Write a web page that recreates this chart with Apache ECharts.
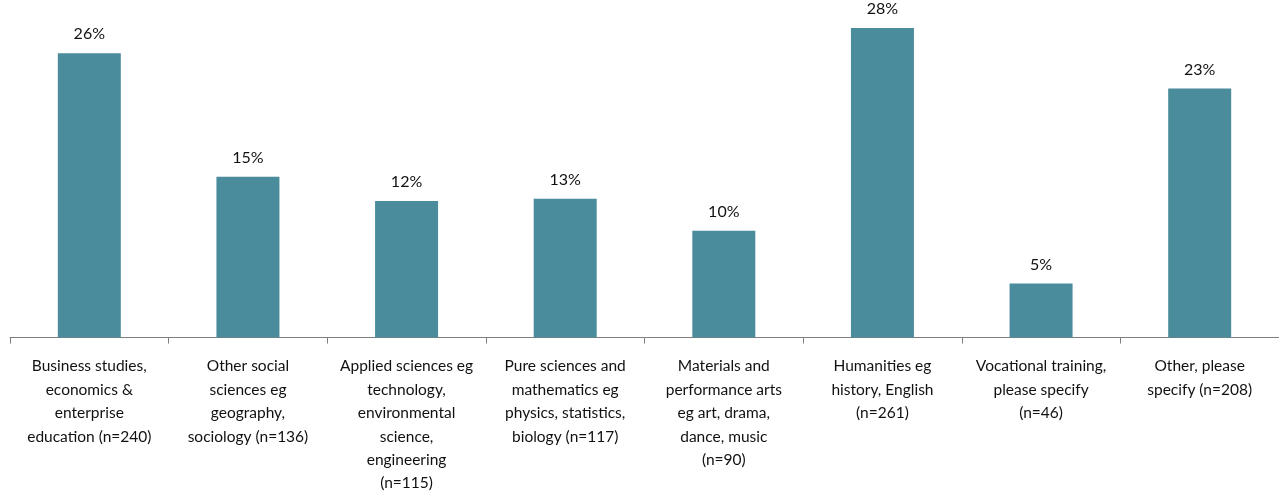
<!DOCTYPE html>
<html>
<head>
<meta charset="utf-8">
<script src="https://cdn.jsdelivr.net/npm/echarts@6/dist/echarts.min.js"></script>
<style>
html,body{margin:0;padding:0;background:#fff;}
#chart{width:1279px;height:495px;}
</style>
</head>
<body>
<div id="chart"></div>
<script>
const categories = [
  "Business studies,\neconomics &\nenterprise\neducation (n=240)",
  "Other social\nsciences eg\ngeography,\nsociology (n=136)",
  "Applied sciences eg\ntechnology,\nenvironmental\nscience,\nengineering\n(n=115)",
  "Pure sciences and\nmathematics eg\nphysics, statistics,\nbiology (n=117)",
  "Materials and\nperformance arts\neg art, drama,\ndance, music\n(n=90)",
  "Humanities eg\nhistory, English\n(n=261)",
  "Vocational training,\nplease specify\n(n=46)",
  "Other, please\nspecify (n=208)"
];
const values = [25.8, 14.6, 12.4, 12.6, 9.7, 28.1, 4.9, 22.6];

const chart = echarts.init(document.getElementById('chart'));
chart.setOption({
  animation: false,
  backgroundColor: '#ffffff',
  grid: { left: 10, right: 0, top: 7, bottom: 156, containLabel: false },
  xAxis: {
    type: 'category',
    data: categories,
    axisLine: { lineStyle: { color: '#7f7f7f', width: 1 } },
    axisTick: { show: true, length: 6, lineStyle: { color: '#7f7f7f' } },
    axisLabel: {
      interval: 0,
      color: '#111111',
      fontFamily: 'Lato',
      fontSize: 15.5,
      lineHeight: 23.4,
      margin: 17
    }
  },
  yAxis: {
    type: 'value',
    min: 0,
    max: 30,
    show: false,
    splitLine: { show: false }
  },
  series: [{
    type: 'bar',
    data: values,
    barWidth: 63,
    itemStyle: { color: '#4a8c9c' },
    label: {
      show: true,
      position: 'top',
      distance: 11,
      color: '#111111',
      fontFamily: 'Lato',
      fontSize: 16,
      formatter: p => Math.round(p.value) + '%'
    }
  }]
});
</script>
</body>
</html>
